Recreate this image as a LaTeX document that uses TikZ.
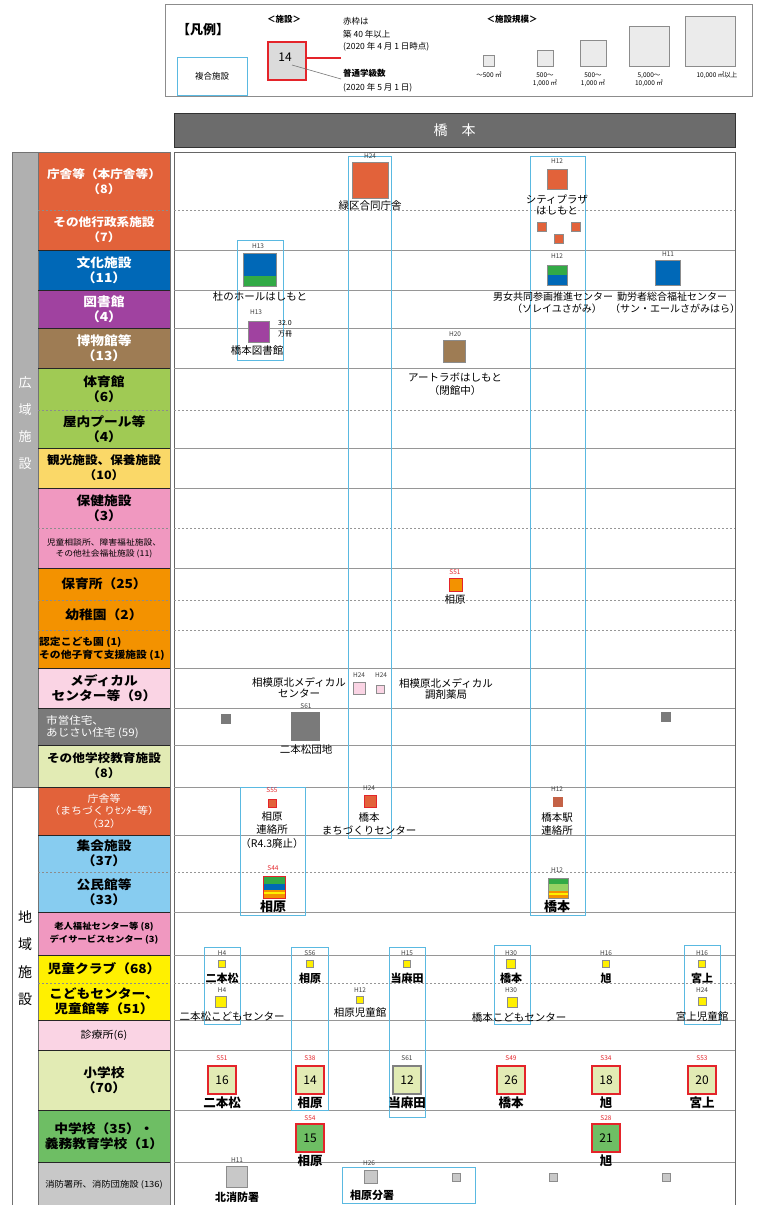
\documentclass[tikz,border=0pt]{standalone}
\usepackage{fontspec}
\setmainfont{Noto Sans CJK JP}
\newfontfamily\catf{Noto Sans CJK JP}[FakeStretch=1.1]
\definecolor{cRed}{RGB}{226,98,58}
\definecolor{cBlue}{RGB}{0,104,183}
\definecolor{cPurple}{RGB}{160,66,160}
\definecolor{cBrown}{RGB}{158,124,84}
\definecolor{cYG}{RGB}{160,202,84}
\definecolor{cYel2}{RGB}{250,216,104}
\definecolor{cPink}{RGB}{240,152,192}
\definecolor{cOrange}{RGB}{243,146,0}
\definecolor{cLPink}{RGB}{250,212,228}
\definecolor{cDGray}{RGB}{122,122,122}
\definecolor{cPG}{RGB}{226,235,180}
\definecolor{cLBlue}{RGB}{135,204,240}
\definecolor{cYellow}{RGB}{255,240,0}
\definecolor{cGreen}{RGB}{110,190,100}
\definecolor{cLGray}{RGB}{200,200,200}
\definecolor{cStrip}{RGB}{176,176,176}
\definecolor{cBox}{RGB}{90,185,225}
\definecolor{cHdr}{RGB}{108,108,108}
\definecolor{cLine}{RGB}{150,150,150}
\definecolor{cRim}{RGB}{228,36,42}
\definecolor{cMid}{RGB}{50,170,70}
\definecolor{cLGreen}{RGB}{150,210,100}
\definecolor{cBrick}{RGB}{196,98,70}
\begin{document}
\begin{tikzpicture}[x=1pt,y=-1pt,
  lbl/.style={inner sep=0, font=\fontsize{10.5}{12}\selectfont, align=center},
  lblb/.style={inner sep=0, font=\fontsize{11}{12}\selectfont\bfseries, align=center},
  yr/.style={inner sep=0, font=\fontsize{6.5}{7}\selectfont, text=black!75},
  yrr/.style={yr, text=cRim},
  sq/.style={draw=black!45, line width=0.5, inner sep=0, minimum size=#1},
  sq/.default=10,
  rsq/.style={sq=#1, draw=cRim, line width=1.1},
  rsq/.default=10,
  numsq/.style={rsq=28, fill=cPG, font=\fontsize{12}{12}\selectfont},
  cbox/.style={draw=cBox, line width=0.8},
  cat/.style={inner sep=0, font=\catf\fontsize{12.5}{15}\selectfont\bfseries, align=center},
  catw/.style={cat, text=white},
  leg/.style={inner sep=0, font=\fontsize{8.5}{10}\selectfont, align=left, anchor=west},
  legs/.style={inner sep=0, font=\fontsize{6.5}{7.5}\selectfont, align=center}
]
\useasboundingbox (0,0) rectangle (757,1205);
\fill[white] (0,0) rectangle (757,1205);

% ---------------- legend ----------------
\draw[black!45, line width=0.8] (165,4) rectangle (752,96);
\node[inner sep=0, font=\fontsize{13}{13}\selectfont\bfseries] (legT) at (203,30) {【凡例】};
\draw[cBox, line width=0.8] (177,57) rectangle (247,95);
\node[inner sep=0, font=\fontsize{8.5}{9}\selectfont] (legC) at (212,76) {複合施設};
\node[inner sep=0, font=\fontsize{8.5}{9}\selectfont\bfseries] (legF) at (284,19) {＜施設＞};
\node[rsq=38, fill=black!14] (leg14) at (287,61) {};
\node[inner sep=0, font=\fontsize{12}{12}\selectfont] (leg14t) at (285,57) {14};
\node[leg] (legA) at (343,21) {赤枠は};
\node[leg] (legB) at (343,34) {築 40 年以上};
\node[leg] (legD) at (343,47) {(2020 年 4 月 1 日時点)};
\node[leg, font=\fontsize{8.5}{10}\selectfont\bfseries] (legE) at (343,73) {普通学級数};
\node[leg] (legG) at (343,88) {(2020 年 5 月 1 日)};
\coordinate (redEnd) at (341,58);
\coordinate (grayStart) at (292,65);
\coordinate (grayEnd) at (341,79);
\draw[cRim, line width=1.1] (leg14.east |- redEnd) -- (redEnd);
\draw[black!55, line width=0.6] (grayStart) -- (grayEnd);
\node[inner sep=0, font=\fontsize{8.5}{9}\selectfont\bfseries] (legS) at (512,19) {＜施設規模＞};
\node[sq=11, fill=black!8] (s1) at (489,60.5) {};
\node[sq=16, fill=black!8] (s2) at (545,58) {};
\node[sq=26, fill=black!8] (s3) at (593,53) {};
\node[sq=40, fill=black!8] (s4) at (649,46) {};
\node[sq=50, fill=black!8] (s5) at (710,41) {};
\node[legs] (s1t) at (489,75) {～500 ㎡};
\node[legs] (s2t) at (545,80) {500～\\1,000 ㎡};
\node[legs] (s3t) at (593,80) {500～\\1,000 ㎡};
\node[legs] (s4t) at (649,80) {5,000～\\10,000 ㎡};
\node[legs] (s5t) at (717,75) {10,000 ㎡以上};

% ---------------- header ----------------
\node[fill=cHdr, draw=black!80, line width=1, minimum width=561, minimum height=34, inner sep=0,
      text=white, font=\fontsize{14}{14}\selectfont] (hdr) at (454.5,130.5) {橋　本};

% ---------------- category column ----------------
\foreach \ya/\yb/\c in {152/250/cRed, 250/290/cBlue, 290/328/cPurple, 328/368/cBrown,
   368/448/cYG, 448/488/cYel2, 488/568/cPink, 568/668/cOrange, 668/708/cLPink,
   708/745/cDGray, 745/787/cPG, 787/835/cRed, 835/912/cLBlue, 912/955/cPink,
   955/1020/cYellow, 1020/1050/cLPink, 1050/1110/cPG, 1110/1162/cGreen, 1162/1205/cLGray}
   \fill[\c] (38,\ya) rectangle (170,\yb);
\fill[cStrip] (12,152) rectangle (38,787);
\draw[black!55, line width=0.8] (12,152) rectangle (170,1205);
\draw[black!55, line width=0.8] (38,152) -- (38,1205);
\draw[black!55, line width=0.8] (12,787) -- (38,787);

% main area frame and row lines
\draw[black!60, line width=0.8] (174,152) rectangle (735,1205);
\foreach \y in {250,290,328,368,448,488,568,668,708,745,787,835,912,955,1020,1050,1110,1162}{
  \draw[black!85, line width=0.9] (38,\y) -- (170,\y);
  \draw[cLine, line width=0.9] (174,\y) -- (735,\y);
}
\foreach \y in {210,410,528,600,630,872,983}{
  \draw[black!45, line width=0.7, dash pattern=on 2pt off 2pt] (38,\y) -- (170,\y);
  \draw[cLine, line width=0.7, dash pattern=on 2pt off 2pt] (174,\y) -- (735,\y);
}

% category labels
\node[catw, font=\catf\fontsize{11.5}{15}\selectfont\bfseries] (cat1) at (104,182) {庁舎等（本庁舎等）\\（8）};
\node[catw, font=\catf\fontsize{11.5}{15}\selectfont\bfseries] (cat2) at (104,230) {その他行政系施設\\（7）};
\node[catw] (cat3) at (104,270) {文化施設\\（11）};
\node[catw] (cat4) at (104,309) {図書館\\（4）};
\node[catw] (cat5) at (104,348) {博物館等\\（13）};
\node[cat] (cat6) at (104,389) {体育館\\（6）};
\node[cat] (cat7) at (104,429) {屋内プール等\\（4）};
\node[cat, font=\catf\fontsize{11.5}{15}\selectfont\bfseries] (cat8) at (104,468) {観光施設、保養施設\\（10）};
\node[cat] (cat9) at (104,508) {保健施設\\（3）};
\node[cat, font=\catf\fontsize{8}{11}\selectfont] (cat10) at (104,548) {児童相談所、障害福祉施設、\\その他社会福祉施設 (11)};
\node[cat] (cat11) at (104,584) {保育所（25）};
\node[cat] (cat12) at (104,615) {幼稚園（2）};
\node[cat, anchor=west, align=left, font=\catf\fontsize{9.8}{13}\selectfont\bfseries] (cat13) at (39,649) {認定こども園 (1)\\その他子育て支援施設 (1)};
\node[cat] (cat14) at (104,688) {メディカル\\センター等（9）};
\node[catw, anchor=west, align=left, font=\catf\fontsize{10.5}{12.5}\selectfont] (cat15) at (46,727) {市営住宅、\\あじさい住宅 (59)};
\node[cat, font=\catf\fontsize{11.5}{15}\selectfont\bfseries] (cat16) at (104,766) {その他学校教育施設\\（8）};
\node[catw, font=\catf\fontsize{10}{12.5}\selectfont] (cat17) at (104,811) {庁舎等\\（まちづくりｾﾝﾀｰ等）\\（32）};
\node[cat] (cat18) at (104,853) {集会施設\\（37）};
\node[cat] (cat19) at (104,892) {公民館等\\（33）};
\node[cat, font=\catf\fontsize{8.5}{13}\selectfont\bfseries] (cat20) at (104,933) {老人福祉センター等 (8)\\デイサービスセンター (3)};
\node[cat] (cat21) at (104,969) {児童クラブ（68）};
\node[cat] (cat22) at (104,1001) {こどもセンター、\\児童館等（51）};
\node[cat, font=\catf\fontsize{10}{11}\selectfont] (cat23) at (104,1035) {診療所(6)};
\node[cat] (cat24) at (104,1080) {小学校\\（70）};
\node[cat] (cat25) at (104,1136) {中学校（35）・\\義務教育学校（1）};
\node[cat, font=\catf\fontsize{8.5}{10}\selectfont] (cat26) at (104,1185) {消防署所、消防団施設 (136)};

% group strip labels
\foreach \t/\y [count=\i] in {広/383,域/410,施/437,設/464}
  \node[inner sep=0, text=white, font=\fontsize{13}{13}\selectfont] (gA\i) at (25,\y) {\t};
\foreach \t/\y [count=\i] in {地/917,域/944,施/972,設/999}
  \node[inner sep=0, font=\fontsize{14}{14}\selectfont] (gB\i) at (25,\y) {\t};

% ---------------- complex-facility boxes ----------------
\draw[cbox] (237,240) rectangle (283,360);
\draw[cbox] (348,156) rectangle (391,838);
\draw[cbox] (530,156) rectangle (585,915);
\draw[cbox] (240,787) rectangle (305,915);
\draw[cbox] (204,947) rectangle (240,1024);
\draw[cbox] (291,947) rectangle (328,1110);
\draw[cbox] (389,947) rectangle (425,1117);
\draw[cbox] (494,945) rectangle (530,1024);
\draw[cbox] (684,945) rectangle (720,1024);
\draw[cbox] (342,1167) rectangle (475,1203);

% ---------------- 庁舎等 ----------------
\node[yr] (y1) at (370,156) {H24};
\node[sq=36, fill=cRed] (midori) at (370,180) {};
\node[lbl] (midoriL) at (370,206) {緑区合同庁舎};
\node[yr] (y2) at (557,161) {H12};
\node[sq=20, fill=cRed] (city) at (557,179) {};
\node[lbl, font=\fontsize{10.5}{10.5}\selectfont] (cityL) at (557,205) {シティプラザ\\はしもと};
\node[sq=9, fill=cRed] (cs1) at (542,227) {};
\node[sq=9, fill=cRed] (cs2) at (576,227) {};
\node[sq=9, fill=cRed] (cs3) at (559,239) {};

% ---------------- 文化施設 ----------------
\node[yr] (y3) at (258,246) {H13};
\node[sq=33, fill=cBlue, path picture={\fill[cMid] (path picture bounding box.south west) rectangle ([yshift=11pt]path picture bounding box.south east);}] (mori) at (259.5,270) {};
\node[lbl] (moriL) at (260,296) {杜のホールはしもと};
\node[yr] (y4) at (557,256) {H12};
\node[sq=20, fill=cMid, path picture={\fill[cBlue] (path picture bounding box.south west) rectangle ([yshift=10pt]path picture bounding box.south east);}] (danjo) at (557,275) {};
\node[lbl, font=\fontsize{10}{11}\selectfont] (danjoL) at (553,297) {男女共同参画推進センター};
\node[lbl, font=\fontsize{10}{11}\selectfont] (danjoL2) at (557,309) {（ソレイユさがみ）};
\node[yr] (y5) at (668,254) {H11};
\node[sq=25, fill=cBlue] (kinro) at (668,273) {};
\node[lbl, font=\fontsize{10}{11}\selectfont] (kinroL) at (672,297) {勤労者総合福祉センター};
\node[lbl, font=\fontsize{10}{11}\selectfont] (kinroL2) at (675,309) {（サン・エールさがみはら）};

% ---------------- 図書館 ----------------
\node[yr] (y6) at (256,312) {H13};
\node[sq=21, fill=cPurple] (lib) at (258.5,331.5) {};
\node[inner sep=0, font=\fontsize{7}{7}\selectfont] (libN) at (285,323) {32.0};
\node[inner sep=0, font=\fontsize{7}{7}\selectfont] (libU) at (285,334) {万冊};
\node[lbl] (libL) at (257,351) {橋本図書館};

% ---------------- 博物館等 ----------------
\node[yr] (y7) at (455,334) {H20};
\node[sq=22, fill=cBrown] (art) at (454,351) {};
\node[lbl, font=\fontsize{10.5}{13}\selectfont] (artL) at (455,384) {アートラボはしもと\\（閉館中）};

% ---------------- 保育所 ----------------
\node[yrr] (y8) at (455,572) {S51};
\node[rsq=13, fill=cOrange, line width=0.8] (hoiku) at (455.5,585) {};
\node[lbl] (hoikuL) at (455,600) {相原};

% ---------------- メディカル ----------------
\node[lbl, font=\fontsize{10.5}{11}\selectfont] (medL1) at (299,688) {相模原北メディカル\\センター};
\node[yr] (y9) at (359,675) {H24};
\node[yr] (y10) at (381,675) {H24};
\node[sq=12, fill=cLPink] (med1) at (359,688.5) {};
\node[sq=8, fill=cLPink] (med2) at (380,689) {};
\node[lbl, font=\fontsize{10.5}{11}\selectfont] (medL2) at (446,689) {相模原北メディカル\\調剤薬局};

% ---------------- 市営住宅 ----------------
\node[sq=10, fill=cDGray, draw=none] (sh1) at (226,719) {};
\node[yr] (y11) at (306,706) {S61};
\node[sq=29, fill=cDGray, draw=none] (sh2) at (305.5,726.5) {};
\node[lbl] (sh2L) at (306,750) {二本松団地};
\node[sq=10, fill=cDGray, draw=none] (sh3) at (666,717) {};

% ---------------- 庁舎等（地域） ----------------
\node[yrr] (y12) at (272,790) {S55};
\node[rsq=8, fill=cRed, line width=0.7] (ren1) at (272.5,803) {};
\node[lbl, font=\fontsize{10.5}{13.5}\selectfont] (ren1L) at (272,830) {相原\\連絡所\\（R4.3廃止）};
\node[yr] (y13) at (369,788) {H24};
\node[rsq=12, fill=cRed, line width=0.7] (machi) at (370,801.5) {};
\node[lbl, font=\fontsize{10.5}{13.5}\selectfont] (machiL) at (369,824) {橋本\\まちづくりセンター};
\node[yr] (y14) at (557,789) {H12};
\node[sq=10, fill=cBrick, draw=none] (eki) at (558,802) {};
\node[lbl, font=\fontsize{10.5}{13.5}\selectfont] (ekiL) at (557,824) {橋本駅\\連絡所};

% ---------------- 公民館等 ----------------
\node[yrr] (y15) at (273,868) {S44};
\node[rsq=22, fill=cOrange, line width=1, path picture={
   \fill[cMid] (path picture bounding box.north west) rectangle ([yshift=-7pt]path picture bounding box.north east);
   \fill[cBlue] ([yshift=-7pt]path picture bounding box.north west) rectangle ([yshift=-13pt]path picture bounding box.north east);
   \fill[cYellow] ([yshift=-15pt]path picture bounding box.north west) rectangle ([yshift=-17pt]path picture bounding box.north east);}] (kou1) at (274,887.5) {};
\node[lblb, font=\fontsize{13}{13}\selectfont\bfseries] (kou1L) at (273,907) {相原};
\node[yr] (y16) at (557,870) {H12};
\node[sq=20, fill=cOrange, path picture={
   \fill[cMid] (path picture bounding box.north west) rectangle ([yshift=-6pt]path picture bounding box.north east);
   \fill[cLGreen] ([yshift=-6pt]path picture bounding box.north west) rectangle ([yshift=-13pt]path picture bounding box.north east);
   \fill[cYellow] ([yshift=-15pt]path picture bounding box.north west) rectangle ([yshift=-17pt]path picture bounding box.north east);}] (kou2) at (558.5,888) {};
\node[lblb, font=\fontsize{13}{13}\selectfont\bfseries] (kou2L) at (557,907) {橋本};

% ---------------- 児童クラブ ----------------
\foreach \x/\yy/\nm/\sz [count=\i] in {222/H4/二本松/7, 310/S56/相原/7, 407/H15/当麻田/7, 511/H30/橋本/9, 606/H16/旭/7, 702/H16/宮上/7}{
  \node[yr] (cy\i) at (\x,953) {\yy};
  \node[sq=\sz, fill=cYellow] (club\i) at (\x,964) {};
  \node[lblb] (clubL\i) at (\x,978) {\nm};
}

% ---------------- こどもセンター ----------------
\node[yr] (cy7) at (222,990) {H4};
\node[sq=11, fill=cYellow] (kid1) at (221,1002) {};
\node[lbl] (kid1L) at (232,1017) {二本松こどもセンター};
\node[yr] (cy8) at (360,990) {H12};
\node[sq=7, fill=cYellow] (kid2) at (360,1000) {};
\node[lbl] (kid2L) at (360,1013) {相原児童館};
\node[yr] (cy9) at (511,990) {H30};
\node[sq=10, fill=cYellow] (kid3) at (512,1002) {};
\node[lbl] (kid3L) at (519,1017) {橋本こどもセンター};
\node[yr] (cy10) at (702,990) {H24};
\node[sq=8, fill=cYellow] (kid4) at (702,1001) {};
\node[lbl] (kid4L) at (702,1017) {宮上児童館};

% ---------------- 小学校 ----------------
\foreach \x/\yy/\st/\num/\nm [count=\i] in {222/S51/yrr/16/二本松, 310/S38/yrr/14/相原, 511/S49/yrr/26/橋本, 606/S34/yrr/18/旭, 702/S53/yrr/20/宮上}{
  \node[\st] (ey\i) at (\x,1058) {\yy};
  \node[numsq] (es\i) at (\x,1080) {\num};
  \node[lblb, font=\fontsize{12.5}{13}\selectfont\bfseries] (esL\i) at (\x,1103) {\nm};
}
\node[yr] (ey6) at (407,1058) {S61};
\node[sq=28, fill=cPG, draw=black!50, line width=1.1, font=\fontsize{12}{12}\selectfont] (es6) at (407,1080) {12};
\node[lblb, font=\fontsize{12.5}{13}\selectfont\bfseries] (esL6) at (407,1103) {当麻田};

% ---------------- 中学校 ----------------
\node[yrr] (jy1) at (310,1118) {S54};
\node[rsq=28, fill=cGreen, font=\fontsize{12}{12}\selectfont] (js1) at (310,1138) {15};
\node[lblb, font=\fontsize{12.5}{13}\selectfont\bfseries] (js1L) at (310,1161) {相原};
\node[yrr] (jy2) at (606,1118) {S28};
\node[rsq=28, fill=cGreen, font=\fontsize{12}{12}\selectfont] (js2) at (606,1138) {21};
\node[lblb, font=\fontsize{12.5}{13}\selectfont\bfseries] (js2L) at (606,1161) {旭};

% ---------------- 消防 ----------------
\node[yr] (fy1) at (237,1160) {H11};
\node[sq=21, fill=cLGray] (fire1) at (236.5,1177) {};
\node[lbl, font=\fontsize{11}{11}\selectfont\bfseries] (fire1L) at (237,1197) {北消防署};
\node[yr] (fy2) at (369,1163) {H26};
\node[sq=13, fill=cLGray] (fire2) at (370.5,1177) {};
\node[lbl, font=\fontsize{11}{11}\selectfont\bfseries] (fire2L) at (372,1195) {相原分署};
\node[sq=8, fill=cLGray] (fire3) at (456,1177) {};
\node[sq=8, fill=cLGray] (fire4) at (553,1177) {};
\node[sq=8, fill=cLGray] (fire5) at (666,1177) {};
\end{tikzpicture}
\end{document}
